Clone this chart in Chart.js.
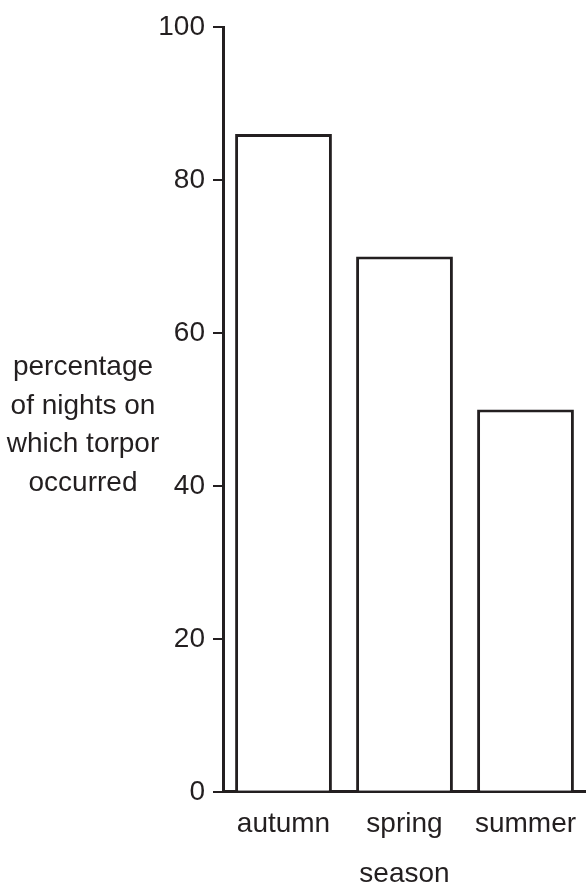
<!DOCTYPE html>
<html>
<head>
<meta charset="utf-8">
<script src="https://cdn.jsdelivr.net/npm/chart.js@4/dist/chart.umd.min.js"></script>
<style>
  html, body { margin: 0; padding: 0; background: #fff; }
  #wrap { width: 586px; height: 891px; position: relative; }
</style>
</head>
<body>
<div id="wrap"><canvas id="c"></canvas></div>
<script>
// data
const seasons = ['autumn', 'spring', 'summer'];
const torporPct = [86, 70, 50];
const yTicks = [0, 20, 40, 60, 80, 100];
const yTitleLines = ['percentage', 'of nights on', 'which torpor', 'occurred'];
const xTitle = 'season';

const FONT = "'Liberation Sans', Arial, sans-serif";
const FS = 28;
const INK = '#231f20';

// y title drawn horizontally, left of the ticks
const yTitlePlugin = {
    id: 'yTitle',
    afterDraw(chart) {
        const { ctx, chartArea } = chart;
        const cy = (chartArea.top + chartArea.bottom) / 2 + 16;
        const lh = 38.5;
        ctx.save();
        ctx.fillStyle = INK;
        ctx.font = FS + 'px ' + FONT;
        ctx.textAlign = 'center';
        ctx.textBaseline = 'middle';
        yTitleLines.forEach((t, i) => {
            ctx.fillText(t, 83, cy + (i - (yTitleLines.length - 1) / 2) * lh);
        });
        ctx.restore();
    }
};

new Chart(document.getElementById('c'), {
    type: 'bar',
    data: {
        labels: seasons,
        datasets: [{
            data: torporPct,
            backgroundColor: '#ffffff',
            borderColor: INK,
            borderWidth: 3,
            borderSkipped: 'bottom',
            barPercentage: 0.8,
            categoryPercentage: 1.0
        }]
    },
    options: {
        responsive: true,
        maintainAspectRatio: false,
        animation: false,
        layout: { padding: { top: 27, right: 0, bottom: 0, left: 0 } },
        plugins: { legend: { display: false }, tooltip: { enabled: false } },
        scales: {
            x: {
                afterFit(scale) { scale.paddingRight = 0; scale.paddingLeft = 0; },
                grid: { display: false, drawTicks: false },
                border: { color: INK, width: 3 },
                ticks: { color: INK, font: { family: FONT, size: FS }, padding: 16, maxRotation: 0 },
                title: { display: true, text: xTitle, color: INK, font: { family: FONT, size: FS }, padding: { top: 0, bottom: 0 } }
            },
            y: {
                min: 0,
                max: 100,
                afterFit(scale) { scale.width = 223; },
                afterBuildTicks(scale) { scale.ticks = yTicks.map(v => ({ value: v })); },
                grid: { drawOnChartArea: false, drawTicks: true, tickLength: 10, color: INK, lineWidth: 2 },
                border: { color: INK, width: 3 },
                ticks: { color: INK, font: { family: FONT, size: FS }, padding: 8 }
            }
        }
    },
    plugins: [yTitlePlugin]
});
</script>
</body>
</html>
